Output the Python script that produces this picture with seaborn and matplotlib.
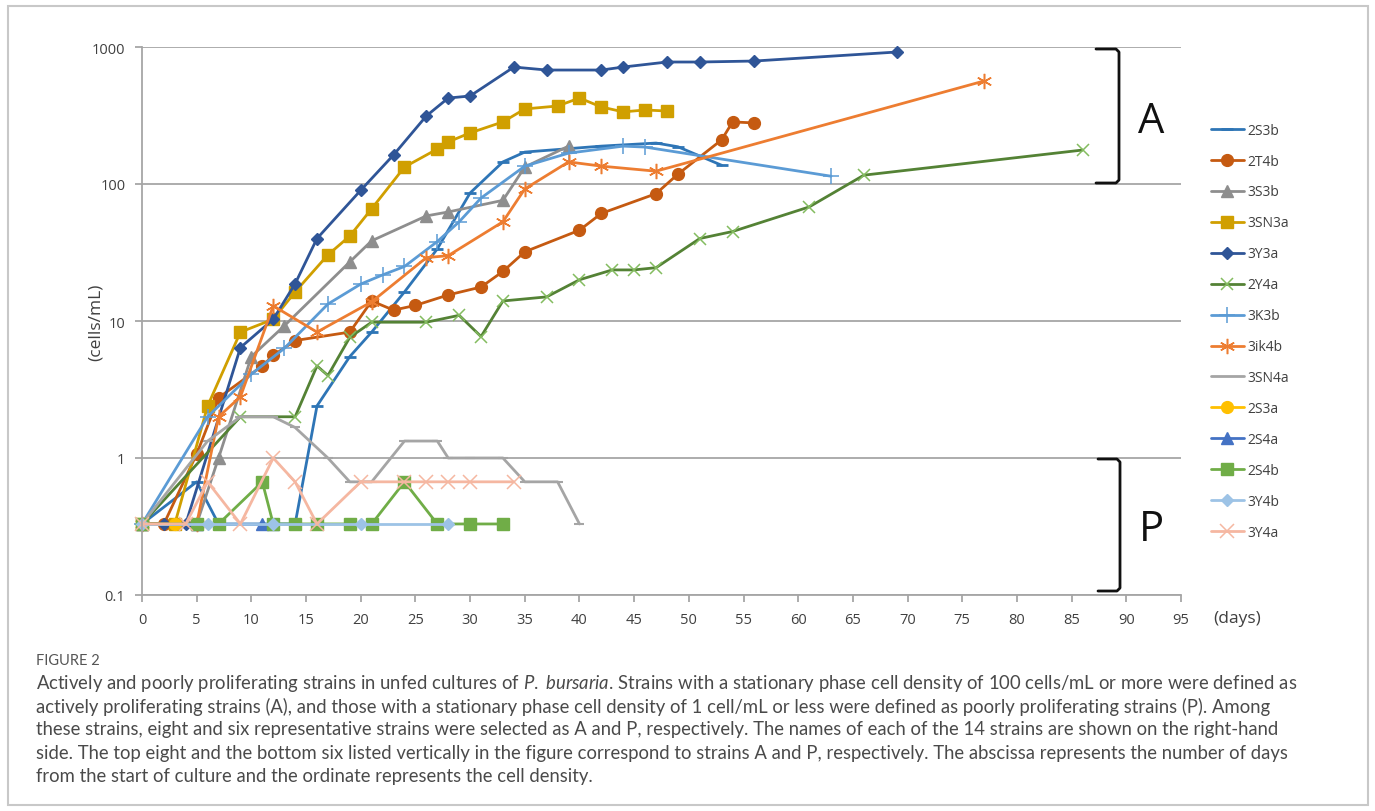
import matplotlib
matplotlib.use("Agg")
import matplotlib.pyplot as plt
from matplotlib.lines import Line2D
from matplotlib.patches import Rectangle
from matplotlib.ticker import NullLocator
import pandas as pd
import seaborn as sns


# Data (days from start, cells/mL)
days_2S3b = [0, 5, 7, 14, 16, 19, 21, 24, 27, 30, 33, 35, 42, 47, 49, 53]
cells_2S3b = [0.33, 0.67, 0.33, 0.33, 2.4, 5.5, 8.3, 16.3, 33.6, 86, 145, 171, 189, 199, 187, 137]

days_2T4b = [0, 2, 5, 7, 11, 12, 14, 19, 21, 23, 25, 28, 31, 33, 35, 40, 42, 47, 49, 53, 54, 56]
cells_2T4b = [0.33, 0.33, 1.07, 2.75, 4.7, 5.6, 7.2, 8.3, 14, 12, 13, 15.5, 17.7, 23, 32, 46, 61, 85, 118, 210, 284, 279]

days_3S3b = [0, 5, 7, 10, 13, 19, 21, 26, 28, 33, 35, 39]
cells_3S3b = [0.33, 0.33, 1.0, 5.5, 9.2, 27, 38.5, 58.5, 62.5, 76, 133, 189]

days_3SN3a = [0, 3, 6, 9, 12, 14, 17, 19, 21, 24, 27, 28, 30, 33, 35, 38, 40, 42, 44, 46, 48]
cells_3SN3a = [0.33, 0.33, 2.4, 8.3, 10.3, 16.3, 30.4, 41.7, 66, 133, 180, 203, 236, 284, 353, 371, 424, 365, 336, 347, 341]

days_3Y3a = [0, 2, 4, 9, 12, 14, 16, 20, 23, 26, 28, 30, 34, 37, 42, 44, 48, 51, 56, 69]
cells_3Y3a = [0.33, 0.33, 0.33, 6.4, 10.3, 18.7, 40, 90, 163, 314, 424, 439, 714, 679, 679, 714, 777, 777, 790, 919]

days_2Y4a = [0, 9, 14, 16, 17, 19, 21, 26, 29, 31, 33, 37, 40, 43, 45, 47, 51, 54, 61, 66, 86]
cells_2Y4a = [0.33, 2.0, 2.0, 4.7, 4.0, 7.6, 9.8, 9.8, 11, 7.7, 14, 15, 20, 23.6, 23.6, 24.5, 40, 45, 68, 116, 177]

days_3K3b = [0, 6, 10, 13, 17, 20, 22, 24, 27, 29, 31, 35, 39, 44, 46, 63]
cells_3K3b = [0.33, 2.0, 4.1, 6.3, 13.3, 18.6, 21.7, 25, 38, 53, 79, 135, 168, 189, 186, 114]

days_3ik4b = [0, 5, 7, 9, 12, 16, 21, 26, 28, 33, 35, 39, 42, 47, 77]
cells_3ik4b = [0.33, 0.33, 2.0, 2.8, 12.9, 8.3, 13.8, 29, 30, 53, 92, 145, 135, 124, 565]

days_3SN4a = [0, 6, 9, 12, 14, 17, 19, 21, 24, 27, 28, 30, 33, 35, 38, 40]
cells_3SN4a = [0.33, 1.33, 2.0, 2.0, 1.67, 1.0, 0.67, 0.67, 1.33, 1.33, 1.0, 1.0, 1.0, 0.67, 0.67, 0.33]

days_2S3a = [0, 3]
cells_2S3a = [0.33, 0.33]

days_2S4a = [0, 5, 11, 12]
cells_2S4a = [0.33, 0.33, 0.33, 0.33]

days_2S4b = [0, 5, 7, 11, 12, 14, 16, 19, 21, 24, 27, 30, 33]
cells_2S4b = [0.33, 0.33, 0.33, 0.67, 0.33, 0.33, 0.33, 0.33, 0.33, 0.67, 0.33, 0.33, 0.33]

days_3Y4b = [0, 6, 12, 20, 28]
cells_3Y4b = [0.33, 0.33, 0.33, 0.33, 0.33]

days_3Y4a = [0, 4, 6, 9, 12, 14, 16, 20, 24, 26, 28, 30, 34]
cells_3Y4a = [0.33, 0.33, 0.67, 0.33, 1.0, 0.67, 0.33, 0.67, 0.67, 0.67, 0.67, 0.67, 0.67]

strains = ["2S3b", "2T4b", "3S3b", "3SN3a", "3Y3a", "2Y4a", "3K3b",
           "3ik4b", "3SN4a", "2S3a", "2S4a", "2S4b", "3Y4b", "3Y4a"]
series = {
    "2S3b": (days_2S3b, cells_2S3b), "2T4b": (days_2T4b, cells_2T4b),
    "3S3b": (days_3S3b, cells_3S3b), "3SN3a": (days_3SN3a, cells_3SN3a),
    "3Y3a": (days_3Y3a, cells_3Y3a), "2Y4a": (days_2Y4a, cells_2Y4a),
    "3K3b": (days_3K3b, cells_3K3b), "3ik4b": (days_3ik4b, cells_3ik4b),
    "3SN4a": (days_3SN4a, cells_3SN4a), "2S3a": (days_2S3a, cells_2S3a),
    "2S4a": (days_2S4a, cells_2S4a), "2S4b": (days_2S4b, cells_2S4b),
    "3Y4b": (days_3Y4b, cells_3Y4b), "3Y4a": (days_3Y4a, cells_3Y4a),
}

# line / marker styles (Excel-like)
line_color = {
    "2S3b": "#2E75B6", "2T4b": "#C55A11", "3S3b": "#8E8E8E", "3SN3a": "#D09F00",
    "3Y3a": "#2F5597", "2Y4a": "#548235", "3K3b": "#5B9BD5", "3ik4b": "#ED7D31",
    "3SN4a": "#A5A5A5", "2S3a": "#FFC000", "2S4a": "#4472C4", "2S4b": "#70AD47",
    "3Y4b": "#9DC3E6", "3Y4a": "#F5B7A1",
}
marker_color = dict(line_color)
marker_color["2Y4a"] = "#84BC60"
marker_style = {
    "2S3b": ("_", 9, 2.0), "2T4b": ("o", 8.5, 1), "3S3b": ("^", 8.5, 1),
    "3SN3a": ("s", 8.5, 1), "3Y3a": ("D", 6.5, 1), "2Y4a": ("x", 9, 1.1),
    "3K3b": ("+", 11, 1.1), "3ik4b": ((6, 2, 0), 11, 1.1), "3SN4a": ("_", 7, 1.5),
    "2S3a": ("o", 8.5, 1), "2S4a": ("^", 8.5, 1), "2S4b": ("s", 8.5, 1),
    "3Y4b": ("D", 6.5, 1), "3Y4a": ("x", 10, 1.1),
}

W, H = 1375, 812


def fx(px):
    return px / W


def fy(py):
    return 1 - py / H


sns.set_style("white")
plt.rcParams["font.family"] = ["Open Sans", "DejaVu Sans"]
plt.rcParams["mathtext.fontset"] = "custom"
plt.rcParams["mathtext.it"] = "Lato:italic"
plt.rcParams["mathtext.rm"] = "Lato"

fig = plt.figure(figsize=(W / 100, H / 100), dpi=100)
ax = fig.add_axes([fx(142), fy(596), fx(1181) - fx(142), fy(48) - fy(596)])

for name in strains:
    d, c = series[name]
    df = pd.DataFrame({"day": d, "cells": c})
    m, ms, mew = marker_style[name]
    sns.lineplot(data=df, x="day", y="cells", ax=ax, sort=False, estimator=None,
                 color=line_color[name], linewidth=2.0, marker=m, markersize=ms,
                 mec=marker_color[name], mfc=marker_color[name], mew=mew,
                 legend=False, clip_on=False)

ax.set_yscale("log")
ax.set_ylim(0.1, 1000)
ax.set_xlim(0, 95)
ax.set_xticks(range(0, 96, 5))
ax.set_yticks([0.1, 1, 10, 100, 1000], labels=["0.1", "1", "10", "100", "1000"])
ax.yaxis.set_minor_locator(NullLocator())
ax.set_xlabel("")
ax.set_ylabel("")
ax.tick_params(axis="both", direction="out", length=5, width=1.3, color="#a6a6a6",
               labelsize=10.5, labelcolor="#404040", pad=7, left=True, bottom=True)
ax.yaxis.grid(True, color="#a6a6a6", linewidth=1.3)
ax.xaxis.grid(False)
for s in ["top", "right"]:
    ax.spines[s].set_visible(False)
for s in ["left", "bottom"]:
    ax.spines[s].set_color("#a6a6a6")
    ax.spines[s].set_linewidth(1.3)

fig.text(fx(96), fy(322), "(cells/mL)", rotation=90, ha="center", va="center",
         fontsize=12.5, color="#404040")
fig.text(fx(1237), fy(619), "(days)", ha="center", va="center",
         fontsize=12.5, color="#404040")

# legend
handles = []
for name in strains:
    m, ms, mew = marker_style[name]
    if name == "3SN4a":
        m = "None"
    handles.append(Line2D([], [], color=line_color[name], lw=2.0, marker=m,
                          markersize=ms, mec=marker_color[name],
                          mfc=marker_color[name], mew=mew))
leg = fig.legend(handles, strains, loc="upper left",
                 bbox_to_anchor=(fx(1205), fy(118)), frameon=False,
                 fontsize=10, handlelength=2.4, handletextpad=0.25,
                 labelspacing=1.15, borderaxespad=0)
for t in leg.get_texts():
    t.set_color("#404040")

# A / P brackets
def bracket(x0, x1, y0, y1):
    xs = [fx(x0), fx(x1 - 3), fx(x1), fx(x1), fx(x1 - 3), fx(x0)]
    ys = [fy(y0), fy(y0), fy(y0 + 3), fy(y1 - 3), fy(y1), fy(y1)]
    fig.add_artist(Line2D(xs, ys, color="#111111", lw=2.0, transform=fig.transFigure,
                          solid_joinstyle="round"))


bracket(1096, 1119, 50, 184)
bracket(1098, 1120, 460, 592)
fig.text(fx(1151), fy(122), "A", ha="center", va="center", fontsize=30, color="#111111")
fig.text(fx(1151), fy(530), "P", ha="center", va="center", fontsize=30, color="#111111")

# frame and caption
fig.add_artist(Rectangle((fx(8), fy(806)), fx(1368) - fx(8), fy(7) - fy(806),
                         fill=False, ec="#c8c8c8", lw=1.5, transform=fig.transFigure))

fig.text(fx(36), fy(661), "FIGURE 2", ha="left", va="center", fontsize=10.5,
         color="#555555", family=["Lato", "DejaVu Sans"])
caption = [
    "Actively and poorly proliferating strains in unfed cultures of $\\it{P.\\ bursaria}$. Strains with a stationary phase cell density of 100 cells/mL or more were defined as",
    "actively proliferating strains (A), and those with a stationary phase cell density of 1 cell/mL or less were defined as poorly proliferating strains (P). Among",
    "these strains, eight and six representative strains were selected as A and P, respectively. The names of each of the 14 strains are shown on the right-hand",
    "side. The top eight and the bottom six listed vertically in the figure correspond to strains A and P, respectively. The abscissa represents the number of days",
    "from the start of culture and the ordinate represents the cell density.",
]
cap_texts = []
for i, line in enumerate(caption):
    cap_texts.append(fig.text(fx(36), fy(683 + i * 23.5), line, ha="left", va="center",
                              fontsize=12, color="#4a4a4a", family=["Lato", "DejaVu Sans"]))

# fit caption width to the reference (first line spans ~1268 px)
fig.canvas.draw()
w = cap_texts[0].get_window_extent().width
for t in cap_texts:
    t.set_fontsize(12 * 1262 / w)

fig.savefig("out.png", dpi=100)
